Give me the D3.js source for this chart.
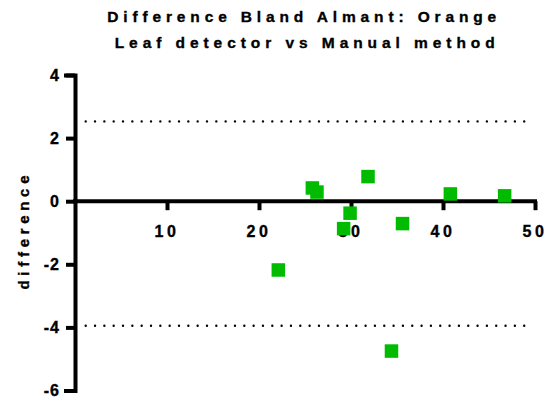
<!DOCTYPE html>
<html>
<head>
<meta charset="utf-8">
<script src="https://cdn.jsdelivr.net/npm/d3@7/dist/d3.min.js"></script>
<style>
  html, body { margin: 0; padding: 0; background: #fff; }
  svg { display: block; font-family: "Liberation Sans", Arial, sans-serif; }
</style>
</head>
<body>
<svg id="chart" width="549" height="402"></svg>
<script>
// Bland-Altman: mean of the two methods vs their difference
const titleLines = ["Difference Bland Almant: Orange", "Leaf detector vs Manual method"];
const yTitle = "difference";
const means = [22.1, 25.8, 26.3, 29.2, 29.9, 31.85, 34.4, 35.6, 40.8, 46.7];
const diffs = [-2.18, 0.42, 0.29, -0.87, -0.38, 0.78, -4.75, -0.71, 0.23, 0.17];
const limits = [2.53, -3.95];          // upper / lower limits of agreement
const xTicks = [10, 20, 30, 40, 50];
const yTicks = [-6, -4, -2, 0, 2, 4];
const xDomain = [0, 50];
const yDomain = [-6, 4];

const svg = d3.select("#chart");
const x = d3.scaleLinear().domain(xDomain).range([75, 535]);
const y = d3.scaleLinear().domain(yDomain).range([390.5, 75]);

const boldText = sel => sel
  .attr("fill", "#000")
  .attr("stroke", "#000")
  .attr("stroke-width", 0.35)
  .attr("font-weight", "bold");

// Title
svg.append("g").selectAll("text").data(titleLines).join("text")
  .attr("x", (d, i) => i === 0 ? 301.7 : 304.7)
  .attr("y", (d, i) => i === 0 ? 22 : 48)
  .attr("text-anchor", "middle")
  .attr("font-size", 15.5)
  .attr("textLength", (d, i) => i === 0 ? 389 : 380)
  .attr("lengthAdjust", "spacing")
  .call(boldText)
  .text(d => d);

// Y axis title
svg.append("text")
  .attr("transform", "translate(28.5,232.5) rotate(-90)")
  .attr("text-anchor", "middle")
  .attr("font-size", 15)
  .attr("textLength", 114)
  .attr("lengthAdjust", "spacing")
  .call(boldText)
  .text(yTitle);

// Limits of agreement (dotted)
svg.append("g").selectAll("line").data(limits).join("line")
  .attr("x1", x(xDomain[0]) + 10.7)
  .attr("x2", x(xDomain[1]) - 10)
  .attr("y1", d => y(d))
  .attr("y2", d => y(d))
  .attr("stroke", "#000")
  .attr("stroke-width", 2.4)
  .attr("stroke-linecap", "round")
  .attr("stroke-dasharray", "0 9.33");

// Y axis
const yAxis = svg.append("g")
  .attr("transform", `translate(${x(0)},0)`)
  .call(d3.axisLeft(y).tickValues(yTicks).tickSize(9).tickPadding(6)
    .tickFormat(d => String(d)));

// X axis along the zero line
const xAxis = svg.append("g")
  .attr("transform", `translate(0,${y(0)})`)
  .call(d3.axisBottom(x).tickValues(xTicks).tickSize(9).tickPadding(15)
    .tickFormat(d => String(d)));

[yAxis, xAxis].forEach(g => {
  g.select(".domain").attr("stroke", "#000").attr("stroke-width", 4)
    .attr("stroke-linecap", "square");
  g.selectAll(".tick line").attr("stroke", "#000").attr("stroke-width", 4);
  g.selectAll(".tick text")
    .attr("font-family", "Liberation Sans, Arial, sans-serif")
    .attr("font-size", 16)
    .call(boldText);
});
yAxis.selectAll(".tick text").attr("letter-spacing", 1);
xAxis.selectAll(".tick text").attr("letter-spacing", 3.5).attr("dx", -0.5);
xAxis.select(".domain").attr("d", `M${x(0)},0H${x(50)}`);

// Points
const size = 13.5;
svg.append("g").selectAll("rect").data(means).join("rect")
  .attr("x", d => x(d) - size / 2)
  .attr("y", (d, i) => y(diffs[i]) - size / 2)
  .attr("width", size)
  .attr("height", size)
  .attr("fill", "#00bb00");
</script>
</body>
</html>
